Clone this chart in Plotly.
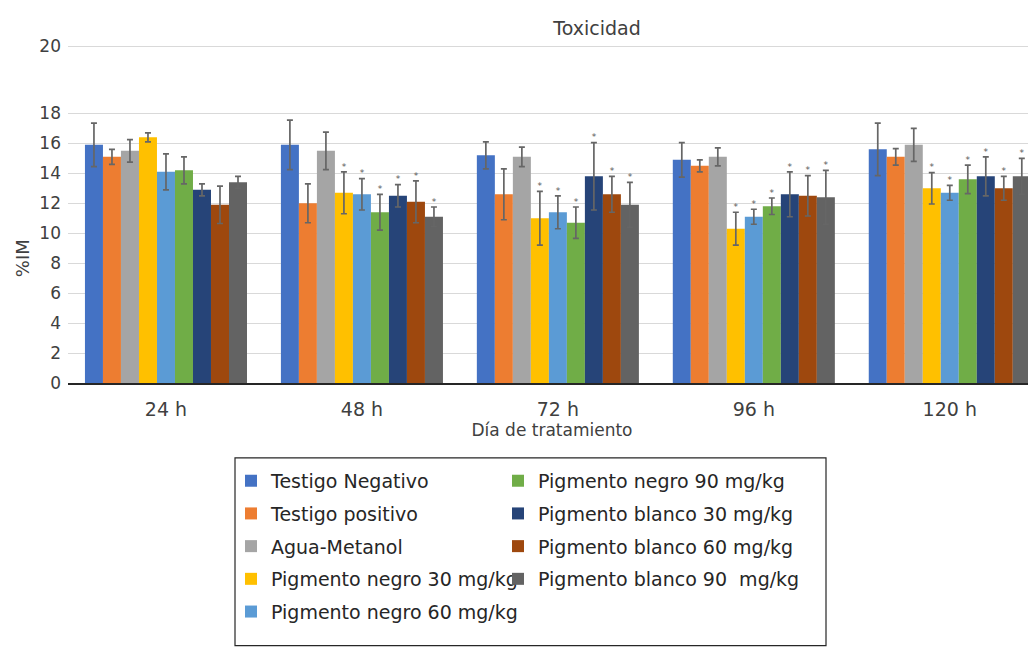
import plotly.graph_objects as go

# ---------------- data ----------------
categories = ["24 h", "48 h", "72 h", "96 h", "120 h"]

series_names = [
    "Testigo Negativo",
    "Testigo positivo",
    "Agua-Metanol",
    "Pigmento negro 30 mg/kg",
    "Pigmento negro 60 mg/kg",
    "Pigmento negro 90 mg/kg",
    "Pigmento blanco 30 mg/kg",
    "Pigmento blanco 60 mg/kg",
    "Pigmento blanco 90  mg/kg",
]

testigo_negativo = [15.9, 15.9, 15.2, 14.9, 15.6]
testigo_positivo = [15.1, 12.0, 12.6, 14.5, 15.1]
agua_metanol     = [15.5, 15.5, 15.1, 15.1, 15.9]
negro_30         = [16.4, 12.7, 11.0, 10.3, 13.0]
negro_60         = [14.1, 12.6, 11.4, 11.1, 12.7]
negro_90         = [14.2, 11.4, 10.7, 11.8, 13.6]
blanco_30        = [12.9, 12.5, 13.8, 12.6, 13.8]
blanco_60        = [11.9, 12.1, 12.6, 12.5, 13.0]
blanco_90        = [13.4, 11.1, 11.9, 12.4, 13.8]

err_testigo_negativo = [1.45, 1.65, 0.9, 1.15, 1.75]
err_testigo_positivo = [0.5, 1.3, 1.7, 0.4, 0.55]
err_agua_metanol     = [0.75, 1.25, 0.65, 0.6, 1.1]
err_negro_30         = [0.3, 1.4, 1.8, 1.1, 1.05]
err_negro_60         = [1.2, 1.05, 1.1, 0.5, 0.5]
err_negro_90         = [0.9, 1.2, 1.05, 0.55, 0.95]
err_blanco_30        = [0.4, 0.75, 2.25, 1.5, 1.3]
err_blanco_60        = [1.25, 1.4, 1.2, 1.35, 0.8]
err_blanco_90        = [0.4, 0.65, 1.5, 1.8, 1.2]

# significance marks (1 = mark shown above the bar)
sig_testigo_negativo = [0, 0, 0, 0, 0]
sig_testigo_positivo = [0, 0, 0, 0, 0]
sig_agua_metanol     = [0, 0, 0, 0, 0]
sig_negro_30         = [0, 1, 1, 1, 1]
sig_negro_60         = [0, 1, 1, 1, 1]
sig_negro_90         = [0, 1, 1, 1, 1]
sig_blanco_30        = [0, 1, 1, 1, 1]
sig_blanco_60        = [0, 1, 1, 1, 1]
sig_blanco_90        = [0, 1, 1, 1, 1]

y_tick_values = [0, 2, 4, 6, 8, 10, 12, 14, 16, 18, 22.5]
y_tick_text = ["0", "2", "4", "6", "8", "10", "12", "14", "16", "18", "20"]

colors = ["#4472C4", "#ED7D31", "#A5A5A5", "#FFC000", "#5B9BD5",
          "#70AD47", "#264478", "#9E480E", "#636363"]

values = [testigo_negativo, testigo_positivo, agua_metanol, negro_30, negro_60,
          negro_90, blanco_30, blanco_60, blanco_90]
errors = [err_testigo_negativo, err_testigo_positivo, err_agua_metanol, err_negro_30,
          err_negro_60, err_negro_90, err_blanco_30, err_blanco_60, err_blanco_90]
sigs = [sig_testigo_negativo, sig_testigo_positivo, sig_agua_metanol, sig_negro_30,
        sig_negro_60, sig_negro_90, sig_blanco_30, sig_blanco_60, sig_blanco_90]

# ---------------- layout geometry ----------------
W, H = 1036, 648
OFF = 8                      # page body margin
L, R, T, B = 60, 8, 34.5, 273
PW, PH = W - L - R, H - T - B

def px_x(p):                 # screen px -> paper x
    return (p - OFF - L) / PW

def px_y(p):                 # screen px -> paper y
    return (H - B - (p - OFF)) / PH

FONT = "DejaVu Sans, Verdana, sans-serif"
TXT = "#404040"

fig = go.Figure()

for i, (name, vals, errs, col) in enumerate(zip(series_names, values, errors, colors)):
    fig.add_trace(go.Bar(
        x=categories, y=vals, name=name,
        marker=dict(color=col, line=dict(width=0)),
        error_y=dict(type="data", array=errs, visible=True,
                     color="#666666", thickness=1.7, width=3),
        legend="legend" if i < 5 else "legend2",
        legendgroup=name,
    ))

for i, (vals, errs, sg) in enumerate(zip(values, errors, sigs)):
    ys = [v + e if s else None for v, e, s in zip(vals, errs, sg)]
    fig.add_trace(go.Scatter(
        x=categories, y=ys, mode="text", text=["*"] * len(categories),
        textposition="top center",
        textfont=dict(size=9, color="#595959", family=FONT),
        showlegend=False, hoverinfo="skip",
    ))

legend_common = dict(
    orientation="v", xanchor="left", yanchor="top",
    font=dict(size=19, color="#262626", family=FONT),
    bgcolor="rgba(0,0,0,0)", borderwidth=0,
    traceorder="grouped", tracegroupgap=5, itemwidth=30,
)

fig.update_layout(
    width=W, height=H,
    margin=dict(l=L, r=R, t=T, b=B, autoexpand=False),
    paper_bgcolor="white", plot_bgcolor="white",
    barmode="group", bargap=0.173, bargroupgap=0,
    scattermode="group", scattergap=0.173,
    font=dict(family=FONT, color=TXT, size=16),
    title=dict(text="Toxicidad", x=px_x(597), xref="paper", xanchor="center",
               y=1 - (28 - OFF) / H, yanchor="middle",
               font=dict(size=19, color=TXT, family=FONT)),
    legend=dict(x=px_x(231), y=px_y(462), **legend_common),
    legend2=dict(x=px_x(498), y=px_y(462), **legend_common),
    xaxis=dict(
        type="category", range=[-0.5, 4.44],
        showline=True, linecolor="#262626", linewidth=1.5,
        ticks="", showgrid=False, ticklabelstandoff=8,
        tickfont=dict(size=19, color=TXT, family=FONT),
        title=dict(text="Día de tratamiento", standoff=5,
                   font=dict(size=17, color=TXT, family=FONT)),
        automargin=False,
    ),
    yaxis=dict(
        range=[0, 22.7], tickmode="array",
        tickvals=y_tick_values, ticktext=y_tick_text,
        showgrid=True, gridcolor="#D9D9D9", gridwidth=1,
        showline=False, zeroline=False, ticks="", ticklabelstandoff=6,
        tickfont=dict(size=17, color=TXT, family=FONT),
        automargin=False,
    ),
    showlegend=True,
    shapes=[dict(type="rect", xref="paper", yref="paper",
                 x0=px_x(235), x1=px_x(826), y0=px_y(458), y1=px_y(646),
                 line=dict(color="#262626", width=1.2), fillcolor="rgba(0,0,0,0)")],
    annotations=[dict(text="%IM", xref="paper", yref="paper",
                      x=px_x(22), y=px_y(258), textangle=-90,
                      showarrow=False, xanchor="center", yanchor="middle",
                      font=dict(size=18, color=TXT, family=FONT))],
)

fig.write_html("out.html")
